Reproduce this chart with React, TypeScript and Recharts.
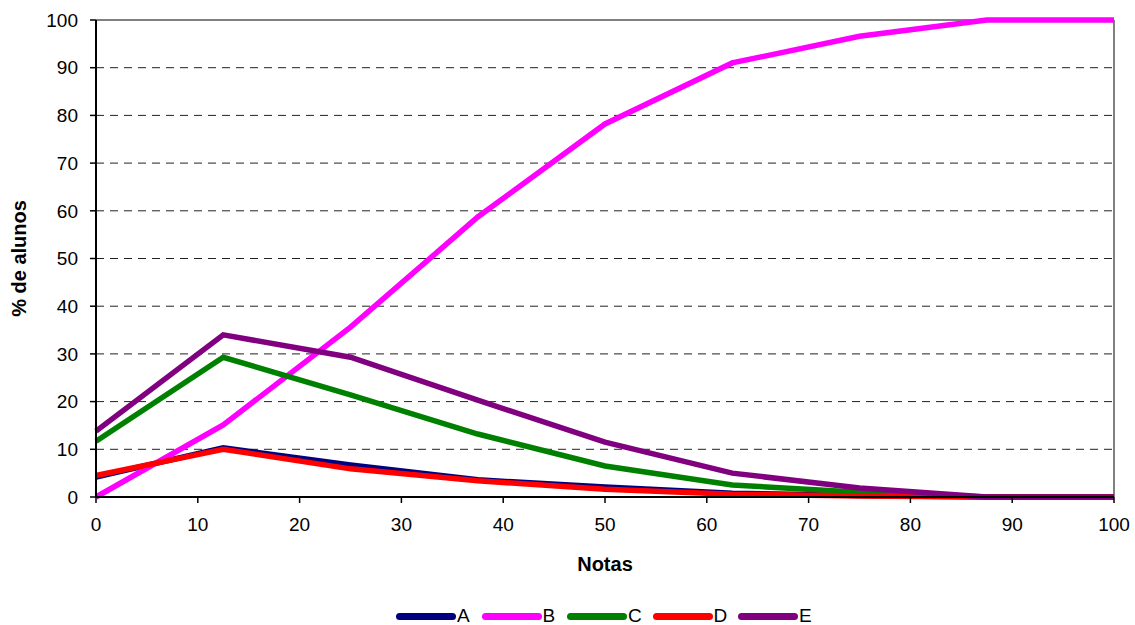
import { LineChart, Line, XAxis, YAxis, CartesianGrid, ReferenceLine, Legend } from 'recharts'

const notas = [0, 12.5, 25, 37.5, 50, 62.5, 75, 87.5, 100]
const serieA = [4.2, 10.3, 6.7, 3.6, 2.1, 0.8, 0.3, 0, 0]
const serieB = [0, 15.1, 35.6, 58.7, 78.2, 91, 96.6, 100, 100]
const serieC = [11.7, 29.3, 21.4, 13.2, 6.5, 2.5, 1, 0, 0]
const serieD = [4.5, 10, 5.9, 3.4, 1.6, 0.6, 0.2, 0, 0]
const serieE = [13.8, 34, 29.3, 20.3, 11.5, 5, 1.9, 0, 0]

const xTicks = [0, 10, 20, 30, 40, 50, 60, 70, 80, 90, 100]
const yTicks = [0, 10, 20, 30, 40, 50, 60, 70, 80, 90, 100]

const SERIES = [
  { key: 'A', color: '#000080' },
  { key: 'B', color: '#ff00ff' },
  { key: 'C', color: '#008000' },
  { key: 'D', color: '#ff0000' },
  { key: 'E', color: '#800080' },
]

const data = notas.map((n, i) => ({
  nota: n,
  A: serieA[i],
  B: serieB[i],
  C: serieC[i],
  D: serieD[i],
  E: serieE[i],
}))

const FONT = '"Liberation Sans", Arial, sans-serif'

function LegendBox() {
  return (
    <div style={{ height: 60, width: 1135, display: 'flex', alignItems: 'flex-end', fontFamily: FONT }}>
      <div style={{ display: 'flex', paddingLeft: 396 }}>
        {SERIES.map(s => (
          <div key={s.key} style={{ display: 'flex', alignItems: 'center', width: 85.5, height: 18 }}>
            <span style={{ display: 'inline-block', width: 60, height: 7, borderRadius: 3.5, background: s.color }} />
            <span style={{ fontSize: 19, color: '#000', marginLeft: 1, lineHeight: '18px' }}>{s.key}</span>
          </div>
        ))}
      </div>
    </div>
  )
}

export default function App() {
  const tick = { fontSize: 19, fill: '#000', fontFamily: FONT }
  const titleStyle = { fontSize: 20, fontWeight: 'bold', fill: '#000', fontFamily: FONT }
  return (
    <div style={{ position: 'absolute', left: 0, top: 0, width: 1135, height: 625, background: '#fff' }}>
      <LineChart width={1135} height={625} data={data} margin={{ top: 20, right: 21, bottom: 0, left: 0 }}>
        <CartesianGrid horizontal vertical={false} stroke="#222" strokeDasharray="8 6" />
        <XAxis
          dataKey="nota"
          type="number"
          domain={[0, 100]}
          ticks={xTicks}
          height={68}
          tick={tick}
          tickSize={6}
          tickMargin={15}
          axisLine={{ stroke: '#000', strokeWidth: 2 }}
          tickLine={{ stroke: '#000', strokeWidth: 1.5 }}
          label={{ value: 'Notas', position: 'insideBottom', offset: -6, style: titleStyle }}
        />
        <YAxis
          type="number"
          domain={[0, 100]}
          ticks={yTicks}
          width={96}
          tick={tick}
          tickSize={6}
          tickMargin={12}
          axisLine={{ stroke: '#000', strokeWidth: 2 }}
          tickLine={{ stroke: '#000', strokeWidth: 1.5 }}
          label={{ value: '% de alunos', angle: -90, position: 'insideLeft', offset: 19, style: { ...titleStyle, textAnchor: 'middle' } }}
        />
        <ReferenceLine y={100} stroke="#808080" strokeWidth={2} />
        <ReferenceLine x={100} stroke="#808080" strokeWidth={2} />
        {SERIES.map(s => (
          <Line
            key={s.key}
            dataKey={s.key}
            stroke={s.color}
            strokeWidth={5.5}
            dot={false}
            activeDot={false}
            isAnimationActive={false}
          />
        ))}
        <Legend verticalAlign="bottom" height={60} wrapperStyle={{ left: 0, width: 1135 }} content={<LegendBox />} />
      </LineChart>
    </div>
  )
}
